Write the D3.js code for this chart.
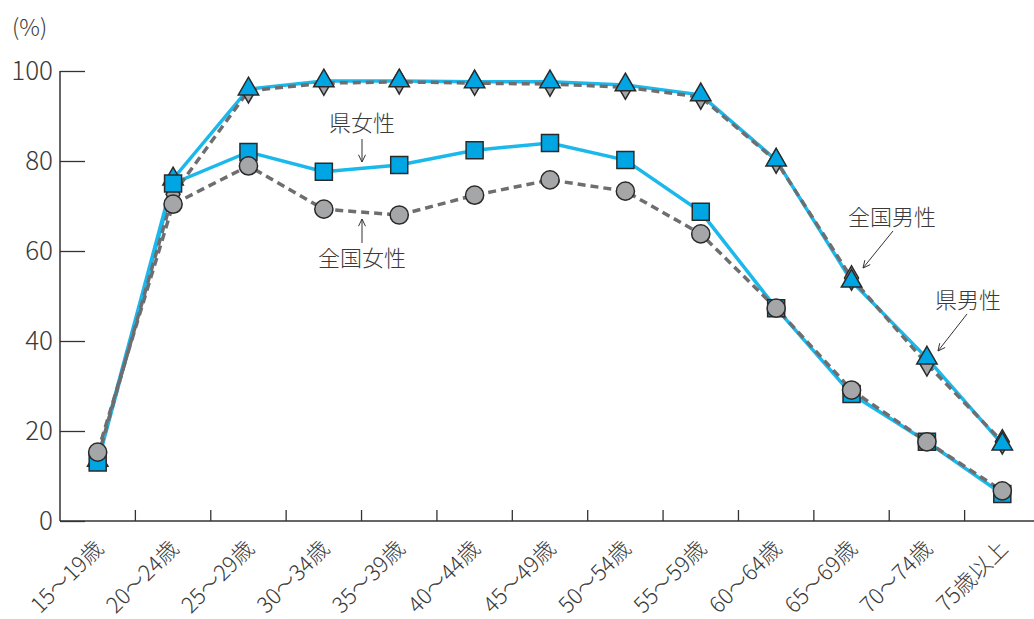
<!DOCTYPE html>
<html><head><meta charset="utf-8">
<script src="https://cdn.jsdelivr.net/npm/d3@7"></script>
<style>
html,body{margin:0;padding:0;background:#fff;}
text{font-family:"Noto Sans CJK JP","Noto Sans",sans-serif;font-weight:300;fill:#3a3a3a;}
</style></head><body>
<svg id="c" width="1034" height="619"></svg>
<script>
const categories = ["15〜19歳","20〜24歳","25〜29歳","30〜34歳","35〜39歳","40〜44歳","45〜49歳","50〜54歳","55〜59歳","60〜64歳","65〜69歳","70〜74歳","75歳以上"];
const kenJosei   = [13, 75, 82, 77.6, 79.1, 82.4, 84, 80.2, 68.7, 47.3, 28.2, 17.6, 6.0];
const zenJosei   = [15.3, 70.4, 78.9, 69.3, 68.0, 72.4, 75.8, 73.3, 63.8, 47.3, 29.1, 17.6, 6.7];
const kenDansei  = [13.5, 76, 96, 97.8, 97.8, 97.6, 97.6, 96.9, 94.7, 80.2, 53.3, 36.2, 17.1];
const zenDansei  = [14, 72.6, 95.6, 97.3, 97.6, 97.3, 97.1, 96.4, 94.2, 80, 54, 34.9, 17.6];
const yTicks = [0, 20, 40, 60, 80, 100];

const svg = d3.select("#c");
const x = d3.scaleBand().domain(categories).range([60, 1040]);
const y = d3.scaleLinear().domain([0, 100]).range([521, 71]);
const cx = d => x(d) + x.bandwidth()/2;

// y axis
const ya = svg.append("g").attr("transform","translate(60,0)")
  .call(d3.axisRight(y).tickValues(yTicks).tickSize(25).tickFormat(""));
ya.select(".domain").remove();
ya.selectAll("line").attr("stroke","#333").attr("stroke-width",1.3);
svg.append("line").attr("x1",60).attr("x2",60).attr("y1",71).attr("y2",521).attr("stroke","#333").attr("stroke-width",1.5);
svg.append("g").selectAll("text").data(yTicks).join("text")
  .attr("x",53).attr("y",d=>y(d)).attr("dy","0.36em").attr("text-anchor","end")
  .style("font-size","26px").text(d=>d);
svg.append("text").attr("x",12).attr("y",36).style("font-size","23px").text("(%)");

// x axis
svg.append("line").attr("x1",60).attr("x2",1034).attr("y1",521).attr("y2",521).attr("stroke","#333").attr("stroke-width",1.5);
svg.append("g").selectAll("line").data(categories.slice(1)).join("line")
  .attr("x1",d=>x(d)).attr("x2",d=>x(d)).attr("y1",521).attr("y2",510).attr("stroke","#333").attr("stroke-width",1.3);
svg.append("g").selectAll("text").data(categories).join("text")
  .attr("transform",d=>`translate(${cx(d)+7},${550}) rotate(-45)`)
  .attr("text-anchor","end").style("font-size","22px").text(d=>d);

const line = d3.line().x((d,i)=>cx(categories[i])).y(d=>y(d));
const blue = "#1bb8ec", gray = "#6e6e70";
svg.append("path").datum(kenDansei).attr("d",line).attr("fill","none").attr("stroke",blue).attr("stroke-width",3.5);
svg.append("path").datum(kenJosei).attr("d",line).attr("fill","none").attr("stroke",blue).attr("stroke-width",3.5);
svg.append("path").datum(zenDansei).attr("d",line).attr("fill","none").attr("stroke",gray).attr("stroke-width",3.5).attr("stroke-dasharray","8,5");
svg.append("path").datum(zenJosei).attr("d",line).attr("fill","none").attr("stroke",gray).attr("stroke-width",3.5).attr("stroke-dasharray","8,5");

const mk = (data, type, size, fill) => {
  svg.append("g").selectAll("path").data(data).join("path")
    .attr("transform",(d,i)=>`translate(${cx(categories[i])},${y(d)})`)
    .attr("d",d3.symbol().type(type).size(size)())
    .attr("fill",fill).attr("stroke","#2a2a2a").attr("stroke-width",1.5);
};
mk(zenDansei, d3.symbolDiamond, 170, "#a5a6a8");
mk(kenDansei, d3.symbolTriangle, 180, "#00a6e4");
mk(kenJosei, d3.symbolSquare, 290, "#00a6e4");
mk(zenJosei, d3.symbolCircle, 260, "#a5a6a8");

// annotations
const ann = (tx, ty, label, x1, y1, x2, y2) => {
  svg.append("text").attr("x",tx).attr("y",ty).attr("text-anchor","middle").style("font-size","22px").text(label);
  svg.append("line").attr("x1",x1).attr("y1",y1).attr("x2",x2).attr("y2",y2).attr("stroke","#333").attr("stroke-width",1);
  const a = Math.atan2(y2-y1, x2-x1), L = 8, w = 0.45;
  svg.append("path").attr("d",`M${x2-L*Math.cos(a-w)},${y2-L*Math.sin(a-w)}L${x2},${y2}L${x2-L*Math.cos(a+w)},${y2-L*Math.sin(a+w)}`)
    .attr("fill","none").attr("stroke","#333").attr("stroke-width",1);
};
ann(362, 131, "県女性", 362, 139, 362, 162);
ann(362, 266, "全国女性", 362, 243, 362, 219);
ann(892, 225, "全国男性", 893, 231, 863, 268);
ann(968, 308, "県男性", 967, 314, 938, 351);
</script></body></html>
